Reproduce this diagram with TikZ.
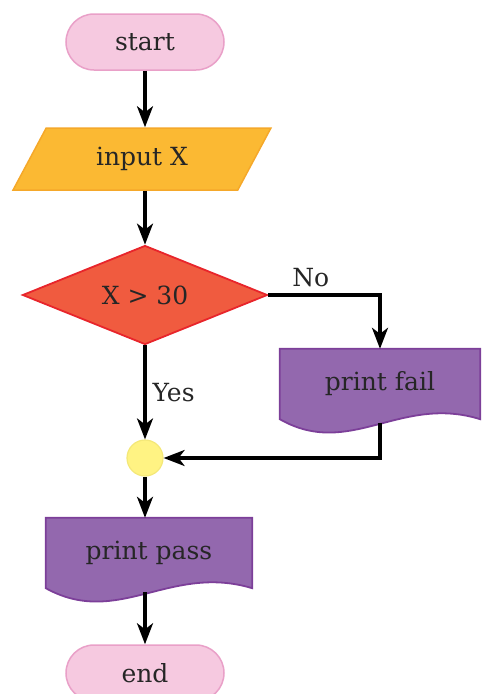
\documentclass[tikz,border=0pt]{standalone}
\usepackage{fontspec}
\setmainfont{DejaVu Serif}
\usetikzlibrary{shapes.geometric,arrows.meta,calc,backgrounds}

\definecolor{termfill}{HTML}{F6C9E0}
\definecolor{termline}{HTML}{E9A0C8}
\definecolor{iofill}{HTML}{FBB933}
\definecolor{ioline}{HTML}{F5A82A}
\definecolor{decfill}{HTML}{F05B3F}
\definecolor{decline}{HTML}{E8252B}
\definecolor{docfill}{HTML}{9368AE}
\definecolor{docline}{HTML}{7C3F99}
\definecolor{joinfill}{HTML}{FFF383}
\definecolor{joinline}{HTML}{F4E878}

% wavy-bottom output box, drawn behind its node
\newcommand{\wavydoc}[1]{%
  \begin{pgfonlayer}{background}
  \draw[docline, fill=docfill, line width=1.8pt] (#1.north west) -- (#1.south west)
    .. controls ($(#1.south west)!0.35!(#1.south east)+(0,40)$)
    and ($(#1.south west)!0.6!(#1.south east)+(0,-25)$) .. (#1.south east)
    -- (#1.north east) -- cycle;
  \end{pgfonlayer}}

\begin{document}
\begin{tikzpicture}[x=1pt, y=-1pt, font=\fontsize{25}{30}\selectfont, text=black!85,
  term/.style={rectangle, rounded corners=28pt, draw=termline, fill=termfill, line width=1.5pt,
    minimum width=158, minimum height=56, inner sep=0},
  io/.style={trapezium, trapezium left angle=56, trapezium right angle=124, trapezium stretches=true,
    draw=ioline, fill=iofill, line width=1.5pt, minimum width=258, minimum height=62, inner sep=0},
  dec/.style={diamond, aspect=2.47, draw=decline, fill=decfill, line width=1.8pt,
    minimum width=245, minimum height=99, inner sep=0},
  docbox/.style={rectangle, minimum width=#1, minimum height=70, inner sep=0},
  joint/.style={circle, draw=joinline, fill=joinfill, line width=1.2pt, minimum size=36, inner sep=0},
  arr/.style={line width=3.2pt, -{Stealth[length=21pt, width=16pt, inset=6pt]}}]

\useasboundingbox (0,0) rectangle (482,694);
\clip (0,0) rectangle (482,694);

\node[term] (start) at (145,42) {start};
\node[io] (input) at (142,159) {input X};
\node[dec] (test) at (145,295) {X > 30};
\node[docbox=200] (fail) at (380,384) {print fail};
\node[joint] (join) at (145,458) {};
\node[docbox=206] (pass) at (149,553) {print pass};
\node[term] (end) at (145,673) {end};

\wavydoc{fail}
\wavydoc{pass}

\draw[arr] (start) -- (start |- input.north);
\draw[arr] (start |- input.south) -- (test);
\draw[arr] (test.east) -| node[pos=0.19, above, inner sep=7pt]{No} (fail.north);
\draw[arr] (test) -- node[right, inner sep=6pt]{Yes} (join);
\draw[arr] ($(fail.south)+(0,4)$) |- (join);
\draw[arr] (join) -- (join |- pass.north);
\draw[arr] ($(end |- pass.south)+(0,4)$) -- (end);

\end{tikzpicture}
\end{document}
